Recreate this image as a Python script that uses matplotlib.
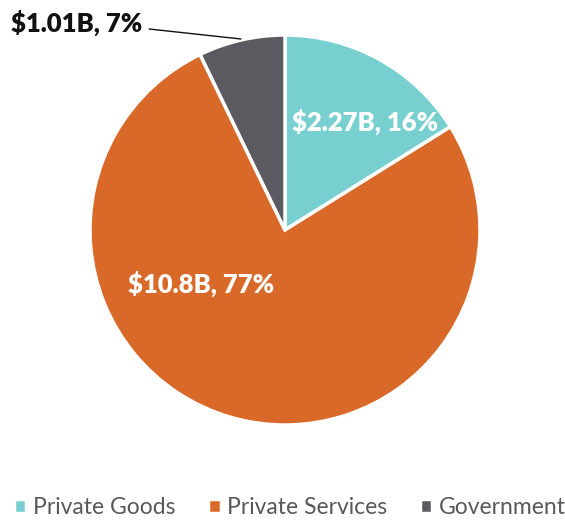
import matplotlib
matplotlib.use("Agg")
import matplotlib.pyplot as plt

labels = ["Private Goods", "Private Services", "Government"]
values = [2.27, 10.8, 1.01]
shares = [16, 77, 7]
value_text = ["$2.27B", "$10.8B", "$1.01B"]
colors = ["#78CFCF", "#D96928", "#5B5A61"]

plt.rcParams["font.family"] = ["Lato", "DejaVu Sans"]

fig = plt.figure(figsize=(5.65, 5.2), dpi=100)
ax = fig.add_axes([0, 0, 1, 1])

wedges, _ = ax.pie(values, colors=colors, startangle=90, counterclock=False,
                   center=(285, 290), radius=195,
                   wedgeprops=dict(edgecolor="white", linewidth=2.5))
ax.set_xlim(0, 565)
ax.set_ylim(0, 520)
ax.set_aspect("equal")
ax.axis("off")

lbl = [f"{v}, {s}%" for v, s in zip(value_text, shares)]
ax.text(365, 398, lbl[0], color="white", fontsize=18.5, fontweight="heavy",
        ha="center", va="center")
ax.text(201, 236, lbl[1], color="white", fontsize=18.5, fontweight="heavy",
        ha="center", va="center")
ax.annotate(lbl[2], xy=(241, 481), xytext=(11, 497), color="#111111",
            fontsize=18.5, fontweight="heavy", ha="left", va="center",
            arrowprops=dict(arrowstyle="-", color="#111111", lw=1,
                            shrinkA=3, shrinkB=0, relpos=(1.0, 0.3)))

leg = ax.legend(wedges, labels, loc="center", bbox_to_anchor=(290 / 565, 12 / 520),
                ncol=3, frameon=False, fontsize=16.5, handlelength=0.55,
                handleheight=0.55, handletextpad=0.3, columnspacing=1.4,
                labelcolor="#595959", borderpad=0)

fig.savefig("out.png", dpi=100)
